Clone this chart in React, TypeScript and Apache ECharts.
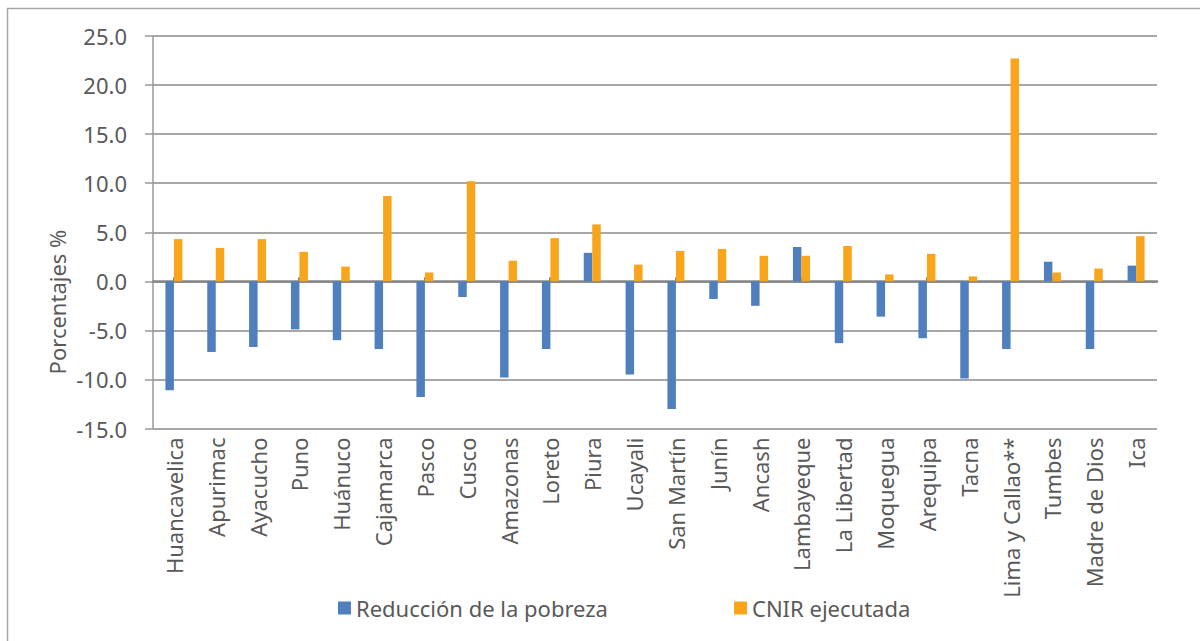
import React, { useEffect, useRef } from "react";
import * as echarts from "echarts";

const categories = [
  "Huancavelica", "Apurimac", "Ayacucho", "Puno", "Huánuco", "Cajamarca",
  "Pasco", "Cusco", "Amazonas", "Loreto", "Piura", "Ucayali", "San Martín",
  "Junín", "Ancash", "Lambayeque", "La Libertad", "Moquegua", "Arequipa",
  "Tacna", "Lima y Callao**", "Tumbes", "Madre de Dios", "Ica",
];

const reduccionPobreza = [
  -11.1, -7.2, -6.7, -4.9, -6.0, -6.9, -11.8, -1.6, -9.8, -6.9, 2.9, -9.5,
  -13.0, -1.8, -2.5, 3.5, -6.3, -3.6, -5.8, -9.9, -6.9, 2.0, -6.9, 1.6,
];

const cnirEjecutada = [
  4.3, 3.4, 4.3, 3.0, 1.5, 8.7, 0.9, 10.2, 2.1, 4.4, 5.8, 1.7,
  3.1, 3.3, 2.6, 2.6, 3.6, 0.7, 2.8, 0.5, 22.7, 0.9, 1.3, 4.6,
];

const yTicks = { min: -15, max: 25, interval: 5 };

const FONT = "'Noto Sans', 'Open Sans', sans-serif";
const TEXT = "#595959";
const GRID = "#8a8a8a";
const FS = 22;

export default function App() {
  const ref = useRef<HTMLDivElement>(null);

  useEffect(() => {
    document.body.style.margin = "0";
    const chart = echarts.init(ref.current!, null, { renderer: "svg" });
    chart.setOption({
      animation: false,
      textStyle: { fontFamily: FONT },
      grid: { left: 153, right: 43, top: 36, bottom: 212.5, containLabel: false },
      graphic: [
        {
          type: "rect",
          shape: { x: 7.5, y: 8.5, width: 1400, height: 1000 },
          style: { fill: "none", stroke: "#a6a6a6", lineWidth: 1.5 },
          silent: true,
        },
        {
          type: "text",
          x: 57,
          y: 302,
          rotation: Math.PI / 2,
          style: {
            text: "Porcentajes %",
            fill: TEXT,
            font: `${FS}px ${FONT}`,
            align: "center",
            verticalAlign: "middle",
          },
        },
      ],
      legend: [
        {
          data: ["Reducción de la pobreza"],
          left: 333,
          top: 592,
          itemWidth: 13,
          itemHeight: 13,
          icon: "rect",
          textStyle: { fontSize: FS, color: TEXT, fontFamily: FONT },
        },
        {
          data: ["CNIR ejecutada"],
          left: 729,
          top: 592,
          itemWidth: 13,
          itemHeight: 13,
          icon: "rect",
          textStyle: { fontSize: FS, color: TEXT, fontFamily: FONT },
        },
      ],
      xAxis: [
        {
          type: "category",
          data: categories,
          position: "bottom",
          axisLine: { show: false, onZero: false },
          axisTick: { show: false },
          axisLabel: {
            rotate: 90,
            interval: 0,
            margin: 9,
            fontSize: FS,
            color: TEXT,
            fontFamily: FONT,
          },
          splitLine: { show: false },
        },
        {
          type: "category",
          data: categories,
          position: "top",
          axisLine: { show: true, onZero: true, lineStyle: { color: "#878787", width: 2.5 } },
          axisTick: {
            show: true,
            inside: false,
            alignWithLabel: true,
            length: 4,
            lineStyle: { color: "#878787", width: 3 },
          },
          axisLabel: { show: false },
          splitLine: { show: false },
        },
      ],
      yAxis: {
        type: "value",
        min: yTicks.min,
        max: yTicks.max,
        interval: yTicks.interval,
        axisLine: { show: true, lineStyle: { color: "#9a9a9a", width: 1.5 } },
        axisTick: { show: true, length: 8, lineStyle: { color: "#9a9a9a", width: 1.5 } },
        axisLabel: {
          formatter: (v: number) => v.toFixed(1),
          fontSize: FS,
          color: TEXT,
          margin: 26,
          fontFamily: FONT,
        },
        splitLine: { show: true, lineStyle: { color: GRID, width: 1.5 } },
      },
      series: [
        {
          name: "Reducción de la pobreza",
          type: "bar",
          xAxisIndex: 0,
          data: reduccionPobreza,
          barWidth: 8.5,
          barGap: "0%",
          itemStyle: { color: "#4f80bd" },
        },
        {
          name: "CNIR ejecutada",
          type: "bar",
          xAxisIndex: 0,
          data: cnirEjecutada,
          barWidth: 8.5,
          barGap: "0%",
          itemStyle: { color: "#f8a51b" },
        },
      ],
    });
    return () => chart.dispose();
  }, []);

  return <div ref={ref} style={{ width: 1200, height: 641 }} />;
}
